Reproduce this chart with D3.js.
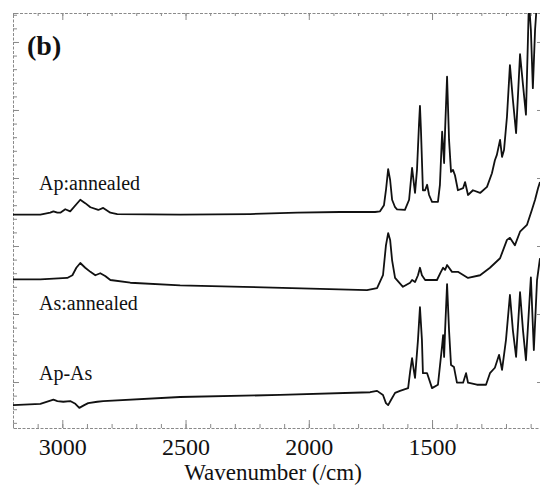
<!DOCTYPE html>
<html>
<head>
<meta charset="utf-8">
<script src="https://cdn.jsdelivr.net/npm/d3@7"></script>
<style>
  body { margin: 0; background: #fff; }
  svg { display: block; }
</style>
</head>
<body>
<div id="chart"></div>
<script>
// tick values (wavenumber, 1/cm)
const majorTicks = [3000, 2500, 2000, 1500];
const minorTicks = d3.range(1100, 3201, 100);
// absorbance ticks (unlabelled)
const yMajorTicks = [0, 0.1, 0.2, 0.3, 0.4, 0.5];
const yMinorTicks = d3.range(-0.06, 0.541, 0.02);

const seriesNames = ["Ap:annealed", "As:annealed", "Ap-As"];

// [wavenumber, absorbance + offset]
const apAnnealed = [
  [3200,0.246],[3089,0.246],[3049,0.249],[3036,0.251],[3020,0.249],[3008,0.249],
  [2988,0.254],[2968,0.251],[2927,0.268],[2907,0.263],[2886,0.257],[2854,0.253],
  [2834,0.256],[2805,0.249],[2777,0.247],[2522,0.246],[2238,0.247],[2047,0.249],
  [1873,0.250],[1731,0.250],[1711,0.251],[1695,0.260],[1687,0.282],[1678,0.313],
  [1670,0.297],[1662,0.268],[1650,0.257],[1642,0.254],[1610,0.253],[1593,0.268],
  [1581,0.315],[1573,0.290],[1569,0.278],[1561,0.312],[1553,0.378],[1549,0.406],
  [1545,0.371],[1537,0.282],[1528,0.282],[1520,0.290],[1512,0.275],[1500,0.265],
  [1476,0.265],[1468,0.290],[1459,0.368],[1451,0.322],[1447,0.371],[1439,0.449],
  [1431,0.356],[1423,0.309],[1415,0.312],[1407,0.304],[1395,0.282],[1374,0.285],
  [1366,0.294],[1354,0.275],[1334,0.282],[1305,0.278],[1277,0.287],[1257,0.307],
  [1245,0.326],[1237,0.334],[1224,0.356],[1216,0.331],[1208,0.341],[1196,0.390],
  [1184,0.466],[1172,0.415],[1159,0.366],[1143,0.482],[1131,0.437],[1119,0.393],
  [1111,0.503],[1107,0.560],[1099,0.518],[1091,0.432],[1082,0.518],[1074,0.560],
  [1062,0.576]
];

const asAnnealed = [
  [3200,0.151],[3089,0.151],[2980,0.153],[2959,0.157],[2943,0.168],[2927,0.175],
  [2907,0.168],[2886,0.162],[2866,0.157],[2846,0.160],[2826,0.156],[2805,0.150],
  [2724,0.146],[2522,0.142],[2266,0.140],[1954,0.137],[1764,0.135],[1723,0.138],
  [1699,0.157],[1687,0.201],[1678,0.219],[1670,0.209],[1662,0.179],[1650,0.153],
  [1618,0.140],[1589,0.146],[1581,0.150],[1569,0.147],[1557,0.157],[1549,0.168],
  [1541,0.157],[1528,0.150],[1480,0.150],[1464,0.162],[1455,0.168],[1447,0.165],
  [1439,0.172],[1419,0.162],[1395,0.162],[1354,0.153],[1305,0.157],[1265,0.168],
  [1224,0.182],[1196,0.209],[1184,0.212],[1164,0.201],[1143,0.221],[1115,0.231],
  [1095,0.253],[1082,0.268],[1070,0.285],[1062,0.294]
];

const apMinusAs = [
  [3200,-0.034],[3089,-0.032],[3036,-0.026],[3020,-0.028],[2996,-0.029],[2968,-0.028],
  [2947,-0.032],[2931,-0.038],[2911,-0.034],[2895,-0.031],[2858,-0.029],[2834,-0.028],
  [2522,-0.022],[2116,-0.019],[1751,-0.015],[1723,-0.013],[1699,-0.019],[1687,-0.031],
  [1678,-0.034],[1666,-0.026],[1650,-0.016],[1630,-0.013],[1597,-0.009],[1589,0.015],
  [1581,0.035],[1573,0.015],[1569,0.006],[1557,0.062],[1549,0.110],[1541,0.062],
  [1537,0.013],[1520,0.013],[1500,-0.009],[1476,-0.004],[1459,0.054],[1455,0.069],
  [1451,0.037],[1447,0.076],[1439,0.144],[1431,0.076],[1423,0.025],[1411,0.022],
  [1399,-0.001],[1374,-0.001],[1362,0.013],[1354,-0.001],[1318,-0.004],[1281,-0.004],
  [1265,0.013],[1245,0.021],[1228,0.040],[1216,0.018],[1200,0.062],[1184,0.128],
  [1172,0.076],[1159,0.037],[1143,0.132],[1131,0.076],[1119,0.032],[1099,0.154],
  [1087,0.047],[1074,0.150],[1062,0.182]
];

const W = 540, H = 488;
const margin = {top: 13, right: 0, bottom: 60, left: 13};
const serif = "'Liberation Serif', 'DejaVu Serif', 'Noto Serif', Tinos, FreeSerif, 'Times New Roman', Times, 'Noto Serif CJK SC', serif";

const svg = d3.select("#chart").append("svg")
  .attr("width", W).attr("height", H);

const x = d3.scaleLinear().domain([3200, 1062]).range([margin.left, W - margin.right]);
const y = d3.scaleLinear().domain([-0.0676, 0.5426]).range([H - margin.bottom, margin.top]);

const frameColor = "#8a8a8a";
const yBottom = y.range()[0], yTop = y.range()[1];

// axes: minor + major ticks pointing inwards
function styleAxis(g) {
  g.select(".domain").attr("stroke", frameColor).attr("stroke-dasharray", "3,1.5");
  g.selectAll(".tick line").attr("stroke", frameColor);
  g.selectAll(".tick text").remove();
}
function tickOnly(g) {
  g.select(".domain").remove();
  g.selectAll(".tick line").attr("stroke", frameColor);
}

svg.append("g").attr("transform", `translate(0,${yBottom})`)
  .call(d3.axisBottom(x).tickValues(minorTicks).tickSize(-4).tickFormat(""))
  .call(styleAxis);
svg.append("g").attr("transform", `translate(0,${yBottom})`)
  .call(d3.axisBottom(x).tickValues(majorTicks).tickSize(-8).tickFormat(d3.format("d")))
  .call(tickOnly)
  .call(g => g.selectAll(".tick text")
    .attr("dy", 0).attr("y", 27)
    .attr("font-size", 24).style("font-family", serif).attr("fill", "#111"));

svg.append("g").attr("transform", `translate(0,${yTop})`)
  .call(d3.axisTop(x).tickValues(minorTicks).tickSize(-3).tickFormat(""))
  .call(styleAxis);
svg.append("g").attr("transform", `translate(0,${yTop})`)
  .call(d3.axisTop(x).tickValues(majorTicks).tickSize(-7).tickFormat(""))
  .call(tickOnly);

svg.append("g").attr("transform", `translate(${margin.left},0)`)
  .call(d3.axisLeft(y).tickValues(yMinorTicks).tickSize(-4).tickFormat(""))
  .call(styleAxis);
svg.append("g").attr("transform", `translate(${margin.left},0)`)
  .call(d3.axisLeft(y).tickValues(yMajorTicks).tickSize(-6).tickFormat(""))
  .call(tickOnly);

// right side: only the major ticks show at the picture edge
svg.append("g").attr("transform", `translate(${W},0)`)
  .call(d3.axisRight(y).tickValues(yMajorTicks).tickSize(-3).tickFormat(""))
  .call(tickOnly);

// spectra
svg.append("clipPath").attr("id", "plot-clip")
  .append("rect")
  .attr("x", margin.left).attr("y", margin.top)
  .attr("width", W - margin.left).attr("height", yBottom - margin.top);

const line = d3.line()
  .x(d => x(d[0]))
  .y(d => y(d[1]));

const spectra = [apAnnealed, asAnnealed, apMinusAs];

svg.append("g").attr("clip-path", "url(#plot-clip)")
  .selectAll("path")
  .data(spectra)
  .join("path")
  .attr("d", line)
  .attr("fill", "none")
  .attr("stroke", "#111")
  .attr("stroke-width", 1.8)
  .attr("stroke-linejoin", "round");

// trace labels
const labelPos = [[39, 190], [39, 310], [39, 380]];
svg.append("g")
  .selectAll("text")
  .data(seriesNames)
  .join("text")
  .attr("x", (d, i) => labelPos[i][0])
  .attr("y", (d, i) => labelPos[i][1])
  .attr("font-size", 20)
  .style("font-family", serif)
  .attr("fill", "#111")
  .text(d => d);

// panel label
svg.append("text")
  .attr("x", 27).attr("y", 55)
  .attr("font-size", 28).attr("font-weight", "bold")
  .style("font-family", serif)
  .attr("fill", "#111")
  .text("(b)");

// axis title
svg.append("text")
  .attr("x", 273).attr("y", 480)
  .attr("text-anchor", "middle")
  .attr("font-size", 23)
  .style("font-family", serif)
  .attr("fill", "#111")
  .text("Wavenumber (/cm)");
</script>
</body>
</html>
